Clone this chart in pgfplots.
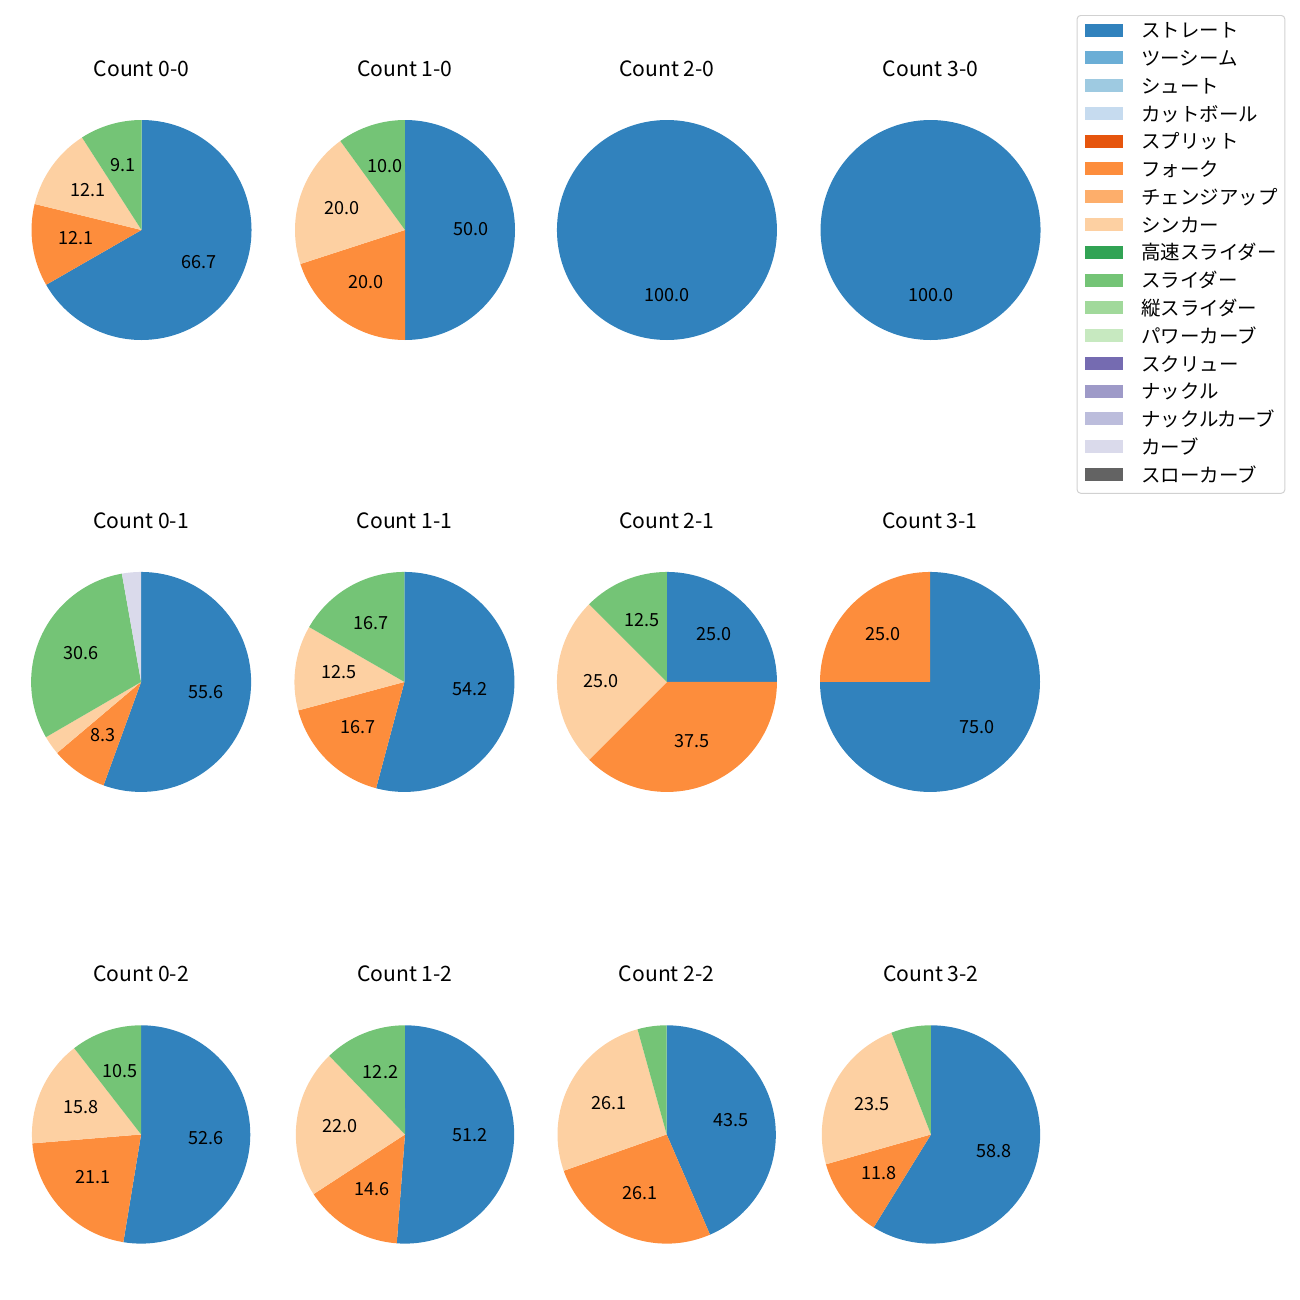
\documentclass[border=0pt]{standalone}
\usepackage{pgfplots}
\pgfplotsset{compat=1.18}
\usepackage{pgfplotstable}
\usepackage{fontspec}
\setmainfont{Noto Sans CJK JP}

\definecolor{pc0}{HTML}{3182BD}
\definecolor{pc1}{HTML}{6BAED6}
\definecolor{pc2}{HTML}{9ECAE1}
\definecolor{pc3}{HTML}{C6DBEF}
\definecolor{pc4}{HTML}{E6550D}
\definecolor{pc5}{HTML}{FD8D3C}
\definecolor{pc6}{HTML}{FDAE6B}
\definecolor{pc7}{HTML}{FDD0A2}
\definecolor{pc8}{HTML}{31A354}
\definecolor{pc9}{HTML}{74C476}
\definecolor{pc10}{HTML}{A1D99B}
\definecolor{pc11}{HTML}{C7E9C0}
\definecolor{pc12}{HTML}{756BB1}
\definecolor{pc13}{HTML}{9E9AC8}
\definecolor{pc14}{HTML}{BCBDDC}
\definecolor{pc15}{HTML}{DADAEB}
\definecolor{pc16}{HTML}{636363}

% share of pitches (percent) per count; idx = legend colour index
\pgfplotstableread{
idx c00 c10 c20 c30 c01 c11 c21 c31 c02 c12 c22 c32
0 66.7 50.0 100.0 100.0 55.6 54.2 25.0 75.0 52.6 51.2 43.5 58.8
5 12.1 20.0 0 0 8.3 16.7 37.5 25.0 21.1 14.6 26.1 11.8
7 12.1 20.0 0 0 2.8 12.5 25.0 0 15.8 22.0 26.1 23.5
9 9.1 10.0 0 0 30.6 16.7 12.5 0 10.5 12.2 4.3 5.9
15 0 0 0 0 2.8 0 0 0 0 0 0 0
}\pies

\newcommand\titlefont{\fontsize{15.2bp}{17bp}\selectfont}
\newcommand\labfont{\fontsize{13bp}{15bp}\selectfont}
\newcommand\legfont{\fontsize{14bp}{16bp}\selectfont}

\newcommand\buildpie[2]{%
  \def\piesum{0}%
  \pgfplotsforeachungrouped \r in {0,...,4}{%
    \pgfplotstablegetelem{\r}{#1}\of\pies
    \pgfmathsetmacro\piesum{\piesum+\pgfplotsretval}}%
  \def\pieang{90}%
  \def\piefills{}%
  \def\pielabels{}%
  \pgfplotsforeachungrouped \r in {0,...,4}{%
    \pgfplotstablegetelem{\r}{#1}\of\pies
    \let\v\pgfplotsretval
    \pgfplotstablegetelem{\r}{idx}\of\pies
    \let\ci\pgfplotsretval
    \pgfmathtruncatemacro\pos{\v>0}%
    \ifnum\pos=1
      \pgfmathsetmacro\sweep{\v/\piesum*360}%
      \pgfmathsetmacro\aend{\pieang-\sweep}%
      \pgfmathsetmacro\amid{\pieang-\sweep/2}%
      \edef\piefills{\unexpanded\expandafter{\piefills}\noexpand\fill[pc\ci] (axis cs:0,0) -- (axis cs:{cos(\pieang)},{sin(\pieang)}) arc[start angle=\pieang, end angle=\aend, radius=#2] -- cycle;}%
      \pgfmathtruncatemacro\lab{\v>6.5}%
      \ifnum\lab=1
        \edef\pielabels{\unexpanded\expandafter{\pielabels}\noexpand\node[pielab] at (axis cs:{0.6*cos(\amid)},{0.6*sin(\amid)}) {\v};}%
      \fi
      \let\pieang\aend
    \fi}%
}

\pgfplotsset{pieax/.style={hide axis, x=#1, y=#1, xmin=-1, xmax=1, ymin=-1, ymax=1, anchor=center, clip=false}}
\tikzset{pielab/.style={font=\labfont, anchor=center, yshift=1bp, inner sep=0pt},
         pietitle/.style={font=\titlefont, anchor=base, yshift=110.4bp, inner sep=0pt}}

\newcommand\pie[5]{%
  \buildpie{#1}{#5}%
  \begin{axis}[pieax=#5, at={(#3,#4)}]
    \piefills
    \pielabels
    \node[pietitle] at (axis cs:0,0) {#2};
  \end{axis}}

\begin{document}
\begin{tikzpicture}
\path[use as bounding box] (0,0) rectangle (936bp,-936bp);
\pie{c00}{Count 0-0}{101.9bp}{-165.6bp}{79.2bp}
\pie{c10}{Count 1-0}{291.6bp}{-165.6bp}{79.2bp}
\pie{c20}{Count 2-0}{480.2bp}{-165.6bp}{79.2bp}
\pie{c30}{Count 3-0}{670.0bp}{-165.6bp}{79.2bp}
\pie{c01}{Count 0-1}{101.6bp}{-491.0bp}{79.2bp}
\pie{c11}{Count 1-1}{291.2bp}{-491.0bp}{79.2bp}
\pie{c21}{Count 2-1}{480.2bp}{-491.0bp}{79.2bp}
\pie{c31}{Count 3-1}{669.6bp}{-491.0bp}{79.2bp}
\pie{c02}{Count 0-2}{101.6bp}{-816.8bp}{78.6bp}
\pie{c12}{Count 1-2}{291.6bp}{-816.8bp}{78.6bp}
\pie{c22}{Count 2-2}{480.0bp}{-816.8bp}{78.6bp}
\pie{c32}{Count 3-2}{670.3bp}{-816.8bp}{78.6bp}

\begin{axis}[hide axis, scale only axis, width=1bp, height=1bp,
  xmin=0, xmax=1, ymin=0, ymax=1,
  at={(775.2bp,-10.8bp)}, anchor=north west,
  legend cell align=left,
  legend image code/.code={\fill[#1, draw=none, sharp corners] (0bp,-3.2bp) rectangle (27.9bp,6.2bp);},
  legend style={at={(0,1)}, anchor=north west,
    draw=black!18, line width=0.7bp, rounded corners=2.5bp, fill=white,
    inner xsep=5.3bp, inner ysep=5.5bp, row sep=7bp,
    nodes={inner sep=0pt, text height=10.5bp, text depth=2.5bp},
    /tikz/every odd column/.append style={column sep=13bp},
    font=\legfont}]
\addlegendimage{fill=pc0}\addlegendentry{ストレート}
\addlegendimage{fill=pc1}\addlegendentry{ツーシーム}
\addlegendimage{fill=pc2}\addlegendentry{シュート}
\addlegendimage{fill=pc3}\addlegendentry{カットボール}
\addlegendimage{fill=pc4}\addlegendentry{スプリット}
\addlegendimage{fill=pc5}\addlegendentry{フォーク}
\addlegendimage{fill=pc6}\addlegendentry{チェンジアップ}
\addlegendimage{fill=pc7}\addlegendentry{シンカー}
\addlegendimage{fill=pc8}\addlegendentry{高速スライダー}
\addlegendimage{fill=pc9}\addlegendentry{スライダー}
\addlegendimage{fill=pc10}\addlegendentry{縦スライダー}
\addlegendimage{fill=pc11}\addlegendentry{パワーカーブ}
\addlegendimage{fill=pc12}\addlegendentry{スクリュー}
\addlegendimage{fill=pc13}\addlegendentry{ナックル}
\addlegendimage{fill=pc14}\addlegendentry{ナックルカーブ}
\addlegendimage{fill=pc15}\addlegendentry{カーブ}
\addlegendimage{fill=pc16}\addlegendentry{スローカーブ}
\end{axis}
\end{tikzpicture}
\end{document}
